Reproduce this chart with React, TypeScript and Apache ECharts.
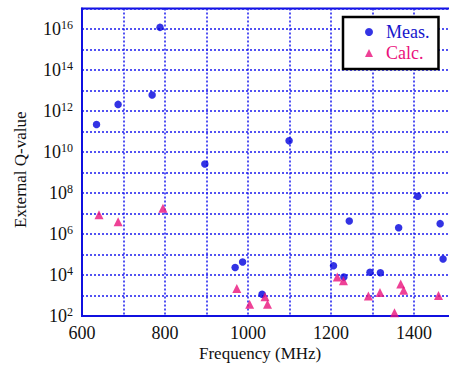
import React, { useEffect, useRef } from "react";
import * as echarts from "echarts";

const measFreq = [635, 687, 769, 788, 896, 1099, 969, 987, 1034, 1206, 1231, 1244, 1294, 1319, 1363, 1409, 1463, 1470];
const measQ = [2.2e11, 2.1e12, 6.0e12, 1.2e16, 2.6e9, 3.5e10, 2.3e4, 4.3e4, 1.15e3, 2.8e4, 7.9e3, 4.3e6, 1.35e4, 1.3e4, 2.0e6, 6.9e7, 3.2e6, 6.0e4];
const calcFreq = [641, 687, 795, 973, 1004, 1041, 1047, 1215, 1230, 1290, 1318, 1353, 1368, 1375, 1459];
const calcQ = [8.7e6, 4.0e6, 1.8e7, 2.2e3, 3.7e2, 8.7e2, 3.7e2, 7.9e3, 5.2e3, 9.5e2, 1.4e3, 1.45e2, 3.6e3, 1.8e3, 1.0e3];
const xLabels = [600, 800, 1000, 1200, 1400];
const yLabelExps = [2, 4, 6, 8, 10, 12, 14, 16];

const BLUE = "#0000dd";
const PINK = "#ea117c";
const GRID = "#1a1aee";
const FONT = "Liberation Serif";

export default function App() {
  const ref = useRef<HTMLDivElement>(null);
  useEffect(() => {
    if (!ref.current) return;
    const chart = echarts.init(ref.current, undefined, { renderer: "svg" });
    chart.setOption({
      animation: false,
      backgroundColor: "#fff",
      textStyle: { fontFamily: FONT },
      grid: {
        left: 82,
        top: 8.5,
        right: 14.5,
        bottom: 49,
        show: true,
        borderColor: "#1010e0",
        borderWidth: 2,
        backgroundColor: "transparent",
      },
      xAxis: {
        type: "value",
        min: 600,
        max: 1500,
        interval: 100,
        axisLine: { show: true, lineStyle: { color: "#1010e0", width: 2 } },
        axisTick: { show: false },
        splitLine: { show: true, lineStyle: { color: GRID, type: [2, 2], width: 1.5 } },
        axisLabel: {
          color: "#111",
          fontSize: 18,
          fontFamily: FONT,
          margin: 8,
          formatter: (v: number) => (xLabels.indexOf(v) >= 0 ? String(v) : ""),
        },
      },
      yAxis: {
        type: "log",
        logBase: 10,
        min: 1e2,
        max: 1e17,
        interval: 1,
        splitNumber: 15,
        axisLine: { show: true, lineStyle: { color: "#1010e0", width: 2 } },
        axisTick: { show: false },
        splitLine: { show: true, lineStyle: { color: GRID, type: [2, 2], width: 1.5 } },
        axisLabel: {
          margin: 9,
          fontFamily: FONT,
          formatter: (v: number) => {
            const e = Math.round(Math.log10(v));
            return yLabelExps.indexOf(e) >= 0 ? `{b|10}{s|${e}}` : "";
          },
          rich: {
            b: { fontSize: 18, fontFamily: FONT, color: "#111", lineHeight: 20 },
            s: { fontSize: 12, fontFamily: FONT, color: "#111", verticalAlign: "top", lineHeight: 20, padding: [0, 0, 10, 0] },
          },
        },
      },
      legend: {
        left: 343,
        top: 17,
        orient: "vertical",
        backgroundColor: "#fff",
        borderColor: "#000",
        borderWidth: 2.5,
        borderRadius: 0,
        padding: [6, 9, 7, 22],
        itemGap: 3,
        itemWidth: 8,
        itemHeight: 8,
        data: [
          { name: "Meas.", icon: "circle", textStyle: { color: "#1515cc", fontFamily: FONT } },
          { name: "Calc.", icon: "triangle", textStyle: { color: PINK, fontFamily: FONT } },
        ],
        textStyle: { fontSize: 18, fontFamily: FONT, padding: [0, 0, 0, 8] },
      },
      graphic: [
        {
          type: "text",
          left: 199,
          top: 345,
          style: { text: "Frequency (MHz)", fontSize: 17, fontFamily: FONT, fill: "#111" },
        },
        {
          type: "text",
          x: 12,
          y: 228,
          rotation: Math.PI / 2,
          style: { text: "External Q-value", fontSize: 17, fontFamily: FONT, fill: "#111" },
        },
      ],
      series: [
        {
          name: "Meas.",
          type: "scatter",
          symbol: "circle",
          symbolSize: 7.5,
          itemStyle: { color: BLUE },
          data: measFreq.map((f, i) => [f, measQ[i]]),
        },
        {
          name: "Calc.",
          type: "scatter",
          symbol: "triangle",
          symbolSize: 9,
          itemStyle: { color: PINK },
          data: calcFreq.map((f, i) => [f, calcQ[i]]),
        },
      ],
    });
    return () => chart.dispose();
  }, []);
  return (
    <div style={{ position: "fixed", left: 0, top: 0, width: 449, height: 365, overflow: "hidden", background: "#fff" }}>
      <div ref={ref} style={{ width: 470, height: 365 }} />
    </div>
  );
}
